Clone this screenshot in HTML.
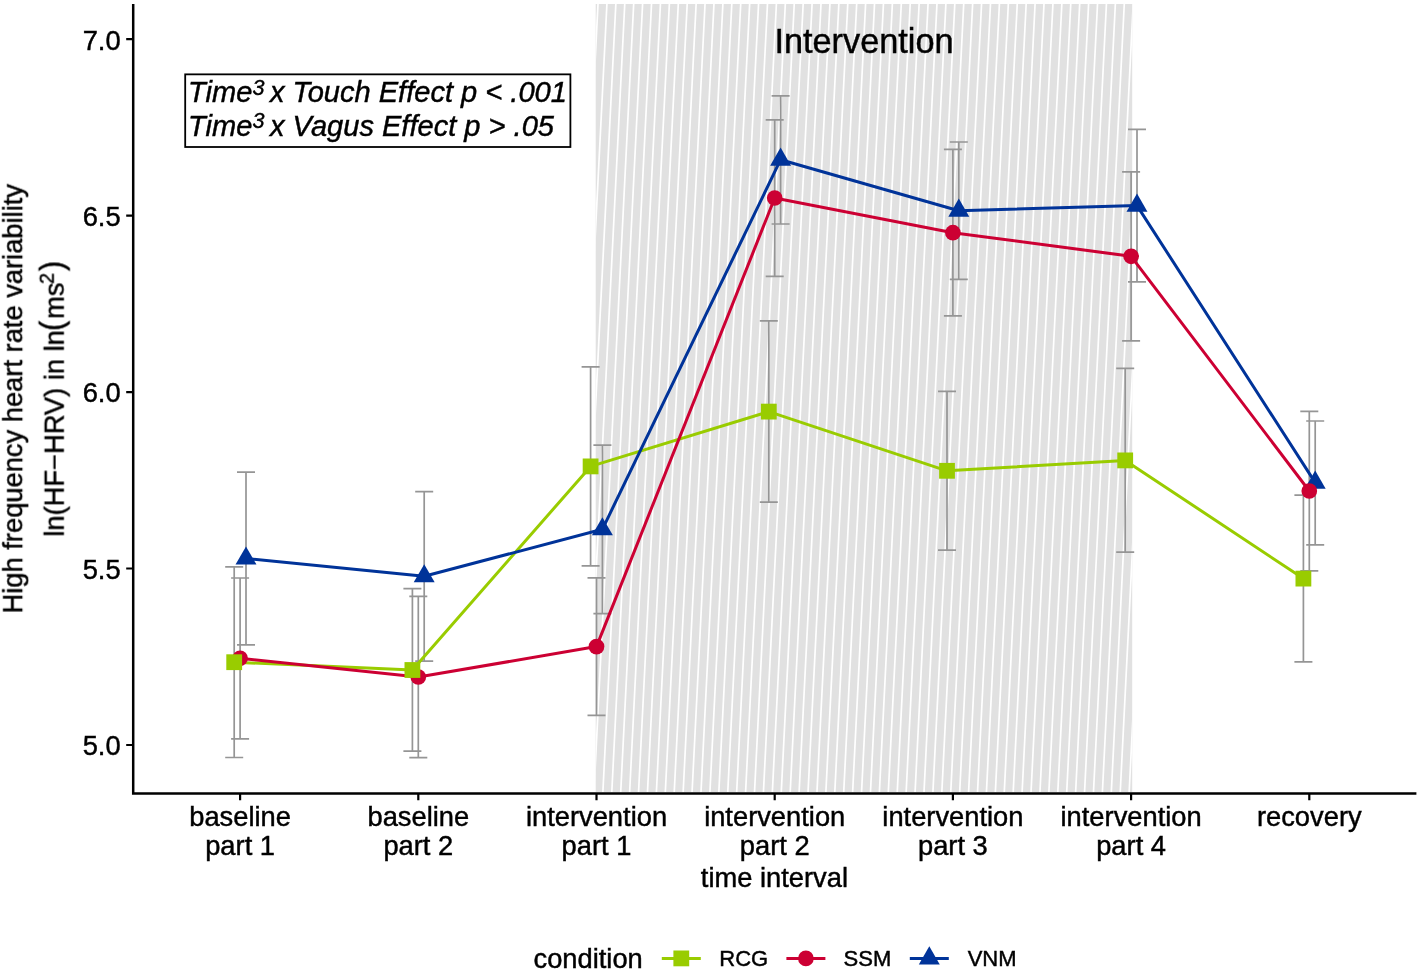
<!DOCTYPE html>
<html lang="en"><head><meta charset="utf-8"><title>HF-HRV by time interval and condition</title>
<style>
html,body{margin:0;padding:0;background:#fff;}
body{width:1420px;height:973px;overflow:hidden;}
svg{display:block;}
text{font-family:'Liberation Sans', sans-serif;fill:#000;stroke:#000;stroke-width:0.45px;}
.t{font-size:27.3px;}
.it{font-style:italic;}
.txt{filter:grayscale(1);}
</style></head><body>
<svg width="1420" height="973" viewBox="0 0 1420 973" role="img" aria-label="Line chart of high frequency heart rate variability by time interval and condition">
<rect x="0" y="0" width="1420" height="973" fill="#fff"/>
<defs><clipPath id="band"><rect x="595.7" y="4" width="536.5" height="788"/></clipPath></defs>
<rect x="595.7" y="4" width="536.5" height="788" fill="#e1e1e1"/>
<g clip-path="url(#band)" stroke="#fff" stroke-width="1.7" fill="none">
<path d="M589.08 4L549.36 792M598 4L558.28 792M606.92 4L567.2 792M615.84 4L576.12 792M624.76 4L585.04 792M633.68 4L593.96 792M642.6 4L602.88 792M651.52 4L611.8 792M660.44 4L620.72 792M669.36 4L629.64 792M678.28 4L638.56 792M687.2 4L647.48 792M696.12 4L656.4 792M705.04 4L665.32 792M713.96 4L674.24 792M722.88 4L683.16 792M731.8 4L692.08 792M740.72 4L701 792M749.64 4L709.92 792M758.56 4L718.84 792M767.48 4L727.76 792M776.4 4L736.68 792M785.32 4L745.6 792M794.24 4L754.52 792M803.16 4L763.44 792M812.08 4L772.36 792M821 4L781.28 792M829.92 4L790.2 792M838.84 4L799.12 792M847.76 4L808.04 792M856.68 4L816.96 792M865.6 4L825.88 792M874.52 4L834.8 792M883.44 4L843.72 792M892.36 4L852.64 792M901.28 4L861.56 792M910.2 4L870.48 792M919.12 4L879.4 792M928.04 4L888.32 792M936.96 4L897.24 792M945.88 4L906.16 792M954.8 4L915.08 792M963.72 4L924 792M972.64 4L932.92 792M981.56 4L941.84 792M990.48 4L950.76 792M999.4 4L959.68 792M1008.32 4L968.6 792M1017.24 4L977.52 792M1026.16 4L986.44 792M1035.08 4L995.36 792M1044 4L1004.28 792M1052.92 4L1013.2 792M1061.84 4L1022.12 792M1070.76 4L1031.04 792M1079.68 4L1039.96 792M1088.6 4L1048.88 792M1097.52 4L1057.8 792M1106.44 4L1066.72 792M1115.36 4L1075.64 792M1124.28 4L1084.56 792M1133.2 4L1093.48 792M1142.12 4L1102.4 792M1151.04 4L1111.32 792M1159.96 4L1120.24 792M1168.88 4L1129.16 792"/>
</g>
<g stroke="#959595" stroke-width="1.7" fill="none">
<path d="M225.2 566.9H243.2M225.2 757.5H243.2M234.2 566.9V757.5M403.4 588.6H421.4M403.4 751.1H421.4M412.4 588.6V751.1M581.6 366.9H599.6M581.6 565.8H599.6M590.6 366.9V565.8M759.8 320.8H777.8M759.8 502.2H777.8M768.8 320.8V502.2M938 391.3H956M938 550.2H956M947 391.3V550.2M1116.2 368.4H1134.2M1116.2 552.1H1134.2M1125.2 368.4V552.1M1294.4 495.2H1312.4M1294.4 661.9H1312.4M1303.4 495.2V661.9"/>
<path d="M231.1 578H249.1M231.1 738.9H249.1M240.1 578V738.9M409.3 596.3H427.3M409.3 757.6H427.3M418.3 596.3V757.6M587.5 577.8H605.5M587.5 715.3H605.5M596.5 577.8V715.3M765.7 119.8H783.7M765.7 276.4H783.7M774.7 119.8V276.4M943.9 149.3H961.9M943.9 315.8H961.9M952.9 149.3V315.8M1122.1 171.8H1140.1M1122.1 340.8H1140.1M1131.1 171.8V340.8M1300.3 411.3H1318.3M1300.3 570.8H1318.3M1309.3 411.3V570.8"/>
<path d="M237 472.2H255M237 644.8H255M246 472.2V644.8M415.2 491.7H433.2M415.2 661.1H433.2M424.2 491.7V661.1M593.4 445.2H611.4M593.4 613.6H611.4M602.4 445.2V613.6M771.6 95.9H789.6M771.6 224H789.6M780.6 95.9V224M949.8 142H967.8M949.8 279.4H967.8M958.8 142V279.4M1128 129.4H1146M1128 281.8H1146M1137 129.4V281.8M1306.2 421H1324.2M1306.2 544.8H1324.2M1315.2 421V544.8"/>
</g>
<polyline points="234.2,662.2 412.4,670 590.6,466.4 768.8,411.6 947,470.8 1125.2,460.4 1303.4,578.6" fill="none" stroke="#99cc00" stroke-width="3" stroke-linejoin="round"/>
<polyline points="240.1,658.3 418.3,677 596.5,646.6 774.7,198 952.9,232.7 1131.1,256.3 1309.3,491" fill="none" stroke="#cc0033" stroke-width="3" stroke-linejoin="round"/>
<polyline points="246,558.5 424.2,576.3 602.4,529.3 780.6,159.7 958.8,210.7 1137,205.6 1315.2,482.6" fill="none" stroke="#003399" stroke-width="3" stroke-linejoin="round"/>
<polygon points="246,546.4 256.48,564.55 235.52,564.55" fill="#003399"/>
<polygon points="424.2,564.2 434.68,582.35 413.72,582.35" fill="#003399"/>
<polygon points="602.4,517.2 612.88,535.35 591.92,535.35" fill="#003399"/>
<polygon points="780.6,147.6 791.08,165.75 770.12,165.75" fill="#003399"/>
<polygon points="958.8,198.6 969.28,216.75 948.32,216.75" fill="#003399"/>
<polygon points="1137,193.5 1147.48,211.65 1126.52,211.65" fill="#003399"/>
<polygon points="1315.2,470.5 1325.68,488.65 1304.72,488.65" fill="#003399"/>
<circle cx="240.1" cy="658.3" r="7.85" fill="#cc0033"/>
<circle cx="418.3" cy="677" r="7.85" fill="#cc0033"/>
<circle cx="596.5" cy="646.6" r="7.85" fill="#cc0033"/>
<circle cx="774.7" cy="198" r="7.85" fill="#cc0033"/>
<circle cx="952.9" cy="232.7" r="7.85" fill="#cc0033"/>
<circle cx="1131.1" cy="256.3" r="7.85" fill="#cc0033"/>
<circle cx="1309.3" cy="491" r="7.85" fill="#cc0033"/>
<rect x="226.3" y="654.3" width="15.8" height="15.8" fill="#99cc00"/>
<rect x="404.5" y="662.1" width="15.8" height="15.8" fill="#99cc00"/>
<rect x="582.7" y="458.5" width="15.8" height="15.8" fill="#99cc00"/>
<rect x="760.9" y="403.7" width="15.8" height="15.8" fill="#99cc00"/>
<rect x="939.1" y="462.9" width="15.8" height="15.8" fill="#99cc00"/>
<rect x="1117.3" y="452.5" width="15.8" height="15.8" fill="#99cc00"/>
<rect x="1295.5" y="570.7" width="15.8" height="15.8" fill="#99cc00"/>
<g stroke="#000" stroke-width="2.5" fill="none">
<path d="M133.2 4V793.4H1416.4"/>
</g>
<g stroke="#000" stroke-width="2.2" fill="none">
<path d="M126.2 745H133.2M126.2 568.52H133.2M126.2 392.05H133.2M126.2 215.58H133.2M126.2 39.1H133.2M240.1 793.4V800.3M418.3 793.4V800.3M596.5 793.4V800.3M774.7 793.4V800.3M952.9 793.4V800.3M1131.1 793.4V800.3M1309.3 793.4V800.3"/>
</g>
<rect x="185.2" y="74.35" width="385.2" height="72.65" fill="#fff" stroke="#000" stroke-width="1.8"/>
<path d="M661.8 958.4H700.8" stroke="#99cc00" stroke-width="3"/>
<path d="M786.4 958.4H825.4" stroke="#cc0033" stroke-width="3"/>
<path d="M909.8 958.4H948.8" stroke="#003399" stroke-width="3"/>
<rect x="673.4" y="950.5" width="15.8" height="15.8" fill="#99cc00"/>
<circle cx="805.9" cy="958.4" r="7.85" fill="#cc0033"/>
<polygon points="929.3,946.3 939.78,964.45 918.82,964.45" fill="#003399"/>
<g class="txt">
<text class="t" x="120.6" y="755.4" text-anchor="end">5.0</text>
<text class="t" x="120.6" y="578.92" text-anchor="end">5.5</text>
<text class="t" x="120.6" y="402.45" text-anchor="end">6.0</text>
<text class="t" x="120.6" y="225.98" text-anchor="end">6.5</text>
<text class="t" x="120.6" y="49.5" text-anchor="end">7.0</text>
<text class="t" x="240.1" y="825.5" text-anchor="middle">baseline</text>
<text class="t" x="240.1" y="855.2" text-anchor="middle">part 1</text>
<text class="t" x="418.3" y="825.5" text-anchor="middle">baseline</text>
<text class="t" x="418.3" y="855.2" text-anchor="middle">part 2</text>
<text class="t" x="596.5" y="825.5" text-anchor="middle">intervention</text>
<text class="t" x="596.5" y="855.2" text-anchor="middle">part 1</text>
<text class="t" x="774.7" y="825.5" text-anchor="middle">intervention</text>
<text class="t" x="774.7" y="855.2" text-anchor="middle">part 2</text>
<text class="t" x="952.9" y="825.5" text-anchor="middle">intervention</text>
<text class="t" x="952.9" y="855.2" text-anchor="middle">part 3</text>
<text class="t" x="1131.1" y="825.5" text-anchor="middle">intervention</text>
<text class="t" x="1131.1" y="855.2" text-anchor="middle">part 4</text>
<text class="t" x="1309.3" y="825.5" text-anchor="middle">recovery</text>
<text class="t" x="774.4" y="887.1" text-anchor="middle">time interval</text>
<text class="t" transform="translate(22.2 398.7) rotate(-90)" text-anchor="middle">High frequency heart rate variability</text>
<g transform="translate(63.7 398.4) rotate(-90)">
<text class="t" x="68.3" y="0" text-anchor="end">ln(HF−HRV) in ln</text>
<text class="t" transform="translate(67.5 -0.8) scale(1.1 1.25)">(</text>
<text class="t" x="79.5" y="0">ms</text>
<text x="114.4" y="-9.9" font-size="19.5">2</text>
<text class="t" transform="translate(127.6 -0.8) scale(1.1 1.25)">)</text>
</g>
<text class="it" x="188.1" y="102.1" font-size="29.05">Time<tspan font-size="21.5" dy="-7.4">3</tspan><tspan dy="7.4" dx="-2.4"> x Touch Effect p &lt; .001</tspan></text>
<text class="it" x="188.1" y="135.6" font-size="29.05">Time<tspan font-size="21.5" dy="-7.4">3</tspan><tspan dy="7.4" dx="-2.4"> x Vagus Effect p &gt; .05</tspan></text>
<text x="864" y="52.6" text-anchor="middle" font-size="34.3">Intervention</text>
<text class="t" x="533.5" y="967.9">condition</text>
<text x="719.3" y="966.1" font-size="22">RCG</text>
<text x="843.6" y="966.1" font-size="22">SSM</text>
<text x="967.7" y="966.1" font-size="22">VNM</text>
</g>
</svg>
</body></html>
